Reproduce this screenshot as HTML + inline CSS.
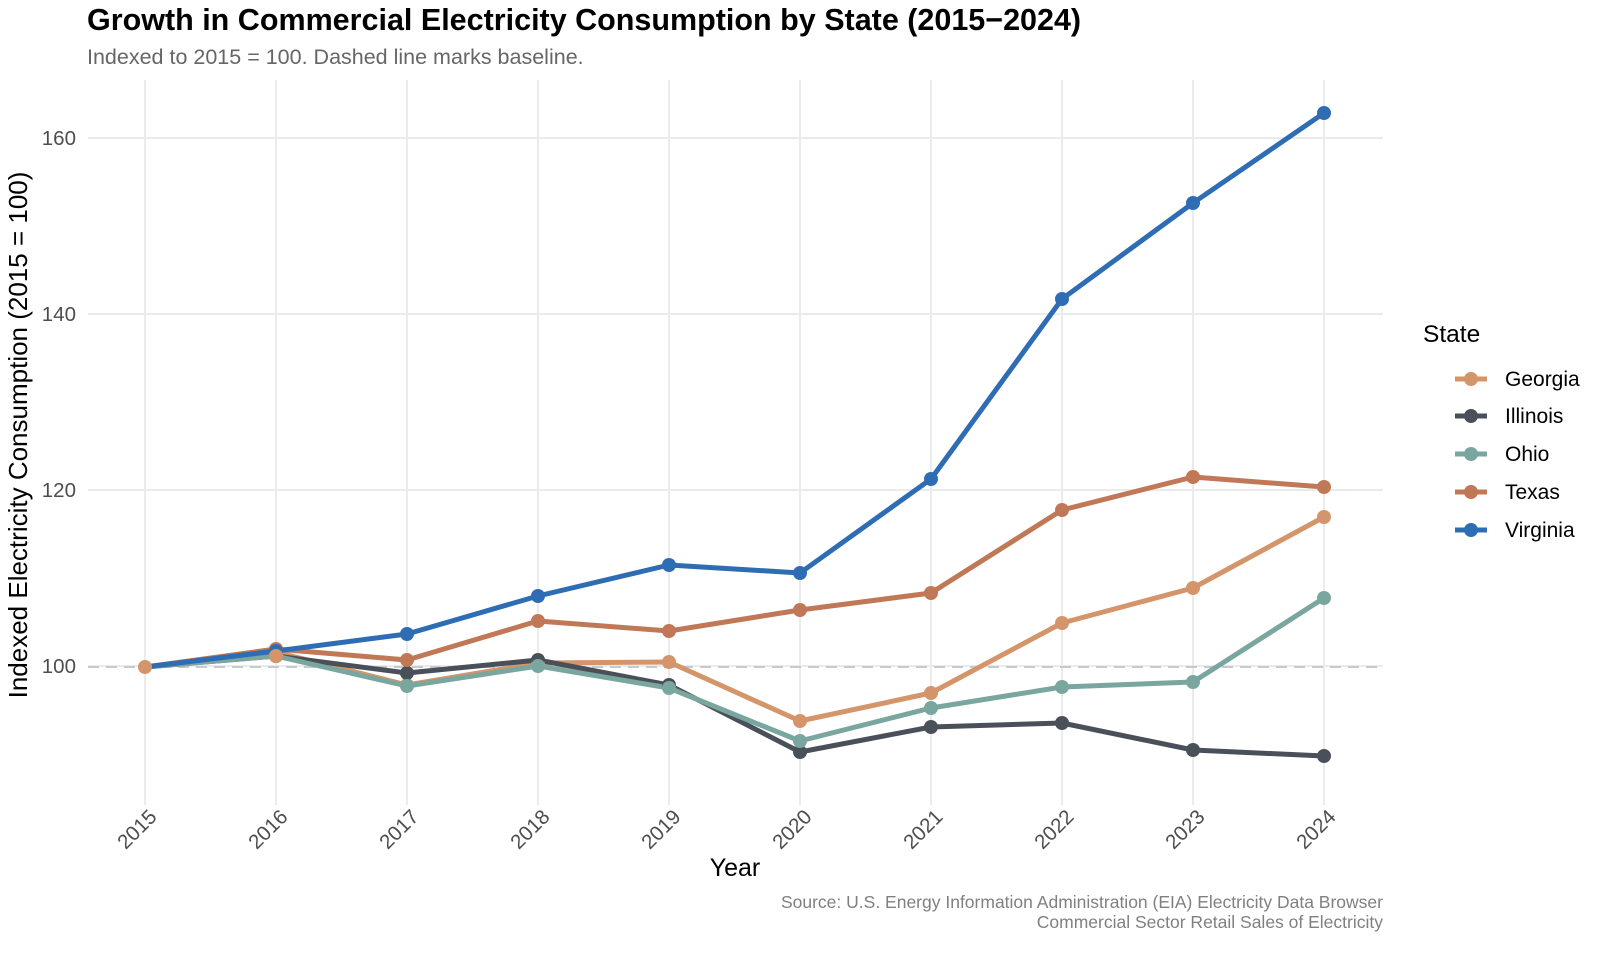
<!DOCTYPE html>
<html><head><meta charset="utf-8"><style>
body{margin:0;background:#fff;}
svg text{font-family:"Liberation Sans",Arial,sans-serif;}
</style></head><body>
<svg width="1600" height="957" viewBox="0 0 1600 957" xmlns="http://www.w3.org/2000/svg">
<rect width="1600" height="957" fill="#fff"/>
<text x="87" y="30" font-size="30.5" font-weight="bold" fill="#000">Growth in Commercial Electricity Consumption by State (2015−2024)</text>
<text x="87" y="64" font-size="21.5" fill="#666">Indexed to 2015 = 100. Dashed line marks baseline.</text>
<g stroke="#ebebeb" stroke-width="2">
<line x1="145" y1="80" x2="145" y2="805"/><line x1="276" y1="80" x2="276" y2="805"/><line x1="407" y1="80" x2="407" y2="805"/><line x1="538" y1="80" x2="538" y2="805"/><line x1="669" y1="80" x2="669" y2="805"/><line x1="800" y1="80" x2="800" y2="805"/><line x1="931" y1="80" x2="931" y2="805"/><line x1="1062" y1="80" x2="1062" y2="805"/><line x1="1193" y1="80" x2="1193" y2="805"/><line x1="1324" y1="80" x2="1324" y2="805"/>
<line x1="88" y1="138" x2="1383" y2="138"/><line x1="88" y1="314" x2="1383" y2="314"/><line x1="88" y1="490" x2="1383" y2="490"/><line x1="88" y1="666" x2="1383" y2="666"/>
</g>
<line x1="88" y1="667" x2="1383" y2="667" stroke="#c5cad0" stroke-width="2" stroke-dasharray="11,7"/>
<g font-size="20.5" fill="#4d4d4d" text-anchor="end">
<text x="76" y="145">160</text><text x="76" y="321">140</text><text x="76" y="497">120</text><text x="76" y="673">100</text>
</g>
<g font-size="20.5" fill="#4d4d4d" text-anchor="end">
<text transform="translate(158,818) rotate(-45)">2015</text>
<text transform="translate(289,818) rotate(-45)">2016</text>
<text transform="translate(420,818) rotate(-45)">2017</text>
<text transform="translate(551,818) rotate(-45)">2018</text>
<text transform="translate(682,818) rotate(-45)">2019</text>
<text transform="translate(813,818) rotate(-45)">2020</text>
<text transform="translate(944,818) rotate(-45)">2021</text>
<text transform="translate(1075,818) rotate(-45)">2022</text>
<text transform="translate(1206,818) rotate(-45)">2023</text>
<text transform="translate(1337,818) rotate(-45)">2024</text>
</g>
<text x="735" y="876" font-size="25" text-anchor="middle" fill="#000">Year</text>
<text transform="translate(27,435) rotate(-90)" font-size="26" text-anchor="middle" fill="#000">Indexed Electricity Consumption (2015 = 100)</text>
<g fill="none" stroke-width="5" stroke-linejoin="round">
<polyline stroke="#d4956a" points="145,667 276,652 407,685 538,663 669,662 800,721 931,693 1062,623 1193,588 1324,517"/>
<polyline stroke="#4a5059" points="145,667 276,656 407,673 538,660 669,685 800,752 931,727 1062,723 1193,750 1324,756"/>
<polyline stroke="#7aa6a0" points="145,667 276,656 407,686 538,666 669,688 800,741 931,708 1062,687 1193,682 1324,598"/>
<polyline stroke="#c07857" points="145,667 276,649 407,660 538,621 669,631 800,610 931,593 1062,510 1193,477 1324,487"/>
<polyline stroke="#2e6db4" points="145,667 276,651 407,634 538,596 669,565 800,573 931,479 1062,299 1193,203 1324,113"/>
</g>
<g fill="#d4956a"><circle cx="276" cy="652" r="7"/><circle cx="407" cy="685" r="7"/><circle cx="538" cy="663" r="7"/><circle cx="669" cy="662" r="7"/><circle cx="800" cy="721" r="7"/><circle cx="931" cy="693" r="7"/><circle cx="1062" cy="623" r="7"/><circle cx="1193" cy="588" r="7"/><circle cx="1324" cy="517" r="7"/></g>
<g fill="#4a5059"><circle cx="276" cy="656" r="7"/><circle cx="407" cy="673" r="7"/><circle cx="538" cy="660" r="7"/><circle cx="669" cy="685" r="7"/><circle cx="800" cy="752" r="7"/><circle cx="931" cy="727" r="7"/><circle cx="1062" cy="723" r="7"/><circle cx="1193" cy="750" r="7"/><circle cx="1324" cy="756" r="7"/></g>
<g fill="#7aa6a0"><circle cx="276" cy="656" r="7"/><circle cx="407" cy="686" r="7"/><circle cx="538" cy="666" r="7"/><circle cx="669" cy="688" r="7"/><circle cx="800" cy="741" r="7"/><circle cx="931" cy="708" r="7"/><circle cx="1062" cy="687" r="7"/><circle cx="1193" cy="682" r="7"/><circle cx="1324" cy="598" r="7"/></g>
<g fill="#c07857"><circle cx="276" cy="649" r="7"/><circle cx="407" cy="660" r="7"/><circle cx="538" cy="621" r="7"/><circle cx="669" cy="631" r="7"/><circle cx="800" cy="610" r="7"/><circle cx="931" cy="593" r="7"/><circle cx="1062" cy="510" r="7"/><circle cx="1193" cy="477" r="7"/><circle cx="1324" cy="487" r="7"/></g>
<g fill="#2e6db4"><circle cx="276" cy="651" r="7"/><circle cx="407" cy="634" r="7"/><circle cx="538" cy="596" r="7"/><circle cx="669" cy="565" r="7"/><circle cx="800" cy="573" r="7"/><circle cx="931" cy="479" r="7"/><circle cx="1062" cy="299" r="7"/><circle cx="1193" cy="203" r="7"/><circle cx="1324" cy="113" r="7"/></g>
<circle cx="276" cy="656" r="7" fill="#d4956a"/>
<circle cx="145" cy="667" r="7" fill="#d4956a"/>
<text x="1423" y="342" font-size="24.5" fill="#000">State</text>
<g stroke-width="5">
<line x1="1455" y1="379" x2="1487" y2="379" stroke="#d4956a"/>
<line x1="1455" y1="416" x2="1487" y2="416" stroke="#4a5059"/>
<line x1="1455" y1="454" x2="1487" y2="454" stroke="#7aa6a0"/>
<line x1="1455" y1="492" x2="1487" y2="492" stroke="#c07857"/>
<line x1="1455" y1="530" x2="1487" y2="530" stroke="#2e6db4"/>
</g>
<circle cx="1471" cy="379" r="7" fill="#d4956a"/><circle cx="1471" cy="416" r="7" fill="#4a5059"/><circle cx="1471" cy="454" r="7" fill="#7aa6a0"/><circle cx="1471" cy="492" r="7" fill="#c07857"/><circle cx="1471" cy="530" r="7" fill="#2e6db4"/>
<g font-size="21" fill="#000">
<text x="1505" y="386">Georgia</text><text x="1505" y="423">Illinois</text><text x="1505" y="461">Ohio</text><text x="1505" y="499">Texas</text><text x="1505" y="537">Virginia</text>
</g>
<g font-size="17.5" fill="#808080" text-anchor="end">
<text x="1383" y="908">Source: U.S. Energy Information Administration (EIA) Electricity Data Browser</text>
<text x="1383" y="928">Commercial Sector Retail Sales of Electricity</text>
</g>
</svg>
</body></html>
